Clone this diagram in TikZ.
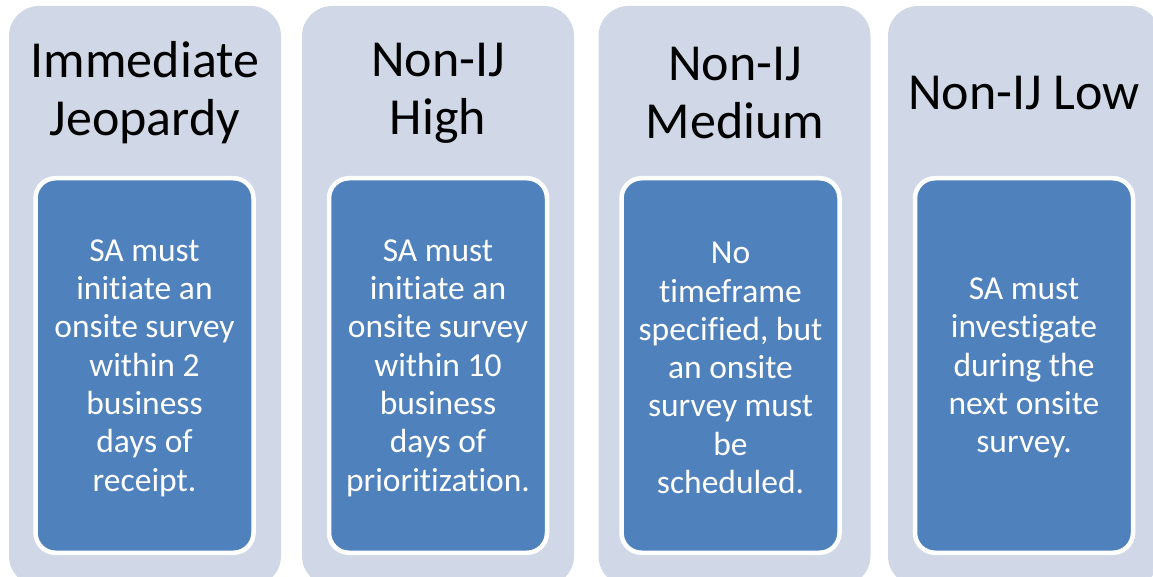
\documentclass[tikz,border=0pt]{standalone}
\usepackage{fontspec}
\setmainfont{Carlito}[Ligatures={NoCommon,NoRare,NoContextual},Contextuals={NoAlternate}]
\definecolor{panelfill}{HTML}{D0D8E8}
\definecolor{cardfill}{HTML}{4F81BD}
\begin{document}
\begin{tikzpicture}[x=1pt,y=-1pt,
  panel/.style={rectangle, rounded corners=30pt, fill=panelfill, draw=none,
    minimum width=272pt, minimum height=580pt, inner sep=0pt},
  card/.style={rectangle, rounded corners=20pt, fill=cardfill, draw=white,
    line width=4.5pt, minimum width=218pt, minimum height=374.5pt,
    inner sep=0pt},
  cardtext/.style={text=white, align=center, inner sep=0pt,
    font=\fontsize{33.5}{38.3}\selectfont},
  title/.style={align=center, text=black, inner sep=0pt,
    font=\fontsize{52}{58}\selectfont}]
\useasboundingbox (0,0) rectangle (1153,577);
\clip (0,0) rectangle (1153,577);

% background panels
\node[panel] (p1) at (145,296) {};
\node[panel] (p2) at (438,296) {};
\node[panel] (p3) at (734.5,296) {};
\node[panel] (p4) at (1024,296) {};

% headings
\node[title] (t1) at (145,93) {Immediate\\Jeopardy};
\node[title] (t2) at (438,93) {Non-IJ\\High};
\node[title] (t3) at (735,93) {Non-IJ\\Medium};
\node[title] (t4) at (1024,93) {Non-IJ Low};

% detail cards
\node[card] (c1) at (144.5,365.5) {};
\node[card] (c2) at (438,365.5) {};
\node[card] (c3) at (730.5,365.5) {};
\node[card] (c4) at (1024,365.5) {};

% card texts
\node[cardtext] (d1) at ([yshift=-2.5pt]c1.center) {SA must\\initiate an\\onsite survey\\within 2\\business\\days of\\receipt.};
\node[cardtext] (d2) at ([yshift=-2.5pt]c2.center) {SA must\\initiate an\\onsite survey\\within 10\\business\\days of\\prioritization.};
\node[cardtext] (d3) at ([yshift=-2.5pt]c3.center) {No\\timeframe\\specified, but\\an onsite\\survey must\\be\\scheduled.};
\node[cardtext] (d4) at ([yshift=-2.5pt]c4.center) {SA must\\investigate\\during the\\next onsite\\survey.};
\end{tikzpicture}
\end{document}
